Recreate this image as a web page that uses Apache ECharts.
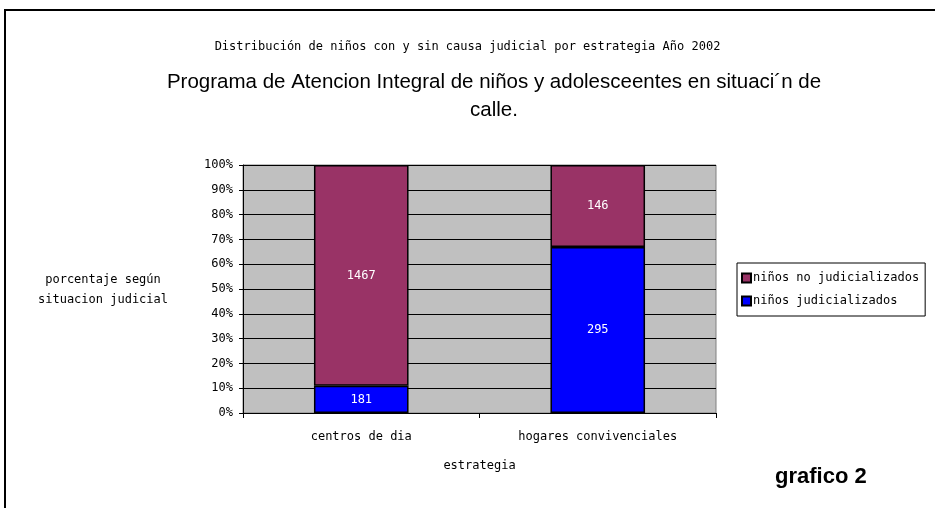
<!DOCTYPE html>
<html>
<head>
<meta charset="utf-8">
<script src="https://cdn.jsdelivr.net/npm/echarts@6/dist/echarts.min.js"></script>
<style>
html,body{margin:0;padding:0;background:#fff;}
#chart{width:935px;height:508px;}
</style>
</head>
<body>
<div id="chart"></div>
<script>
const categories = ['centros de dia', 'hogares convivenciales'];
const judicializados = [181, 295];
const noJudicializados = [1467, 146];
const yTickLabels = ['0%','10%','20%','30%','40%','50%','60%','70%','80%','90%','100%'];

const totals = categories.map((c, i) => judicializados[i] + noJudicializados[i]);
const pctJud = judicializados.map((v, i) => ({ value: v / totals[i] * 100, raw: v }));
const pctNo = noJudicializados.map((v, i) => ({ value: v / totals[i] * 100, raw: v }));

const FONT = 'Liberation Sans';
const SMALL = 'DejaVu Sans Mono';
const chart = echarts.init(document.getElementById('chart'), null, { renderer: 'canvas' });

const labelCfg = {
  show: true,
  position: 'inside',
  color: '#ffffff',
  fontFamily: SMALL,
  fontSize: 12,
  formatter: p => p.data.raw
};

chart.setOption({
  animation: false,
  backgroundColor: '#ffffff',
  textStyle: { fontFamily: SMALL },
  title: [
    {
      text: 'Distribución de niños con y sin causa judicial por estrategia Año 2002',
      left: 'center', top: 36,
      textStyle: { fontFamily: SMALL, fontSize: 12, fontWeight: 'normal', color: '#000' }
    },
    {
      text: 'Programa de Atencion Integral de niños y adolesceentes en situaci´n de\ncalle.',
      left: 489, top: 63, textAlign: 'center',
      textStyle: { fontFamily: FONT, fontSize: 20.5, fontWeight: 'normal', color: '#000', lineHeight: 28, align: 'center' }
    }
  ],
  legend: {
    orient: 'vertical',
    left: 737, top: 263,
    padding: [9, 6, 9, 4],
    itemGap: 11,
    itemWidth: 9, itemHeight: 9,
    borderColor: '#000', borderWidth: 1,
    data: ['niños no judicializados', 'niños judicializados'],
    textStyle: { fontFamily: SMALL, fontSize: 12, color: '#000', padding: [0,0,0,-3] },
    icon: 'rect'
  },
  grid: { left: 243, right: 219, top: 165, bottom: 95, show: true, backgroundColor: '#C0C0C0', borderColor: '#808080', borderWidth: 1 },
  xAxis: {
    type: 'category',
    data: categories,
    name: 'estrategia',
    nameLocation: 'middle',
    nameGap: 47,
    nameTextStyle: { fontFamily: SMALL, fontSize: 12, color: '#000' },
    axisLine: { lineStyle: { color: '#000', width: 1 } },
    axisTick: { show: true, alignWithLabel: false, length: 5, lineStyle: { color: '#000' } },
    axisLabel: { fontFamily: SMALL, fontSize: 12, color: '#000', margin: 18 }
  },
  yAxis: {
    type: 'value',
    min: 0, max: 100, interval: 10,
    axisLine: { show: true, lineStyle: { color: '#000', width: 1 } },
    axisTick: { show: true, length: 4, lineStyle: { color: '#000' } },
    splitLine: { show: true, lineStyle: { color: '#000', width: 1 } },
    axisLabel: { fontFamily: SMALL, fontSize: 12, color: '#000', margin: 10, formatter: (v) => yTickLabels[Math.round(v / 10)] }
  },
  series: [
    {
      name: 'niños judicializados',
      type: 'bar', stack: 'total',
      barCategoryGap: '60%',
      itemStyle: { color: '#0000FF', borderColor: '#000', borderWidth: 1.5 },
      label: labelCfg,
      data: pctJud
    },
    {
      name: 'niños no judicializados',
      type: 'bar', stack: 'total',
      barCategoryGap: '60%',
      itemStyle: { color: '#993366', borderColor: '#000', borderWidth: 1.5 },
      label: labelCfg,
      data: pctNo
    }
  ],
  graphic: [
    {
      type: 'rect', z: 100,
      shape: { x: 5, y: 10, width: 1000, height: 600 },
      style: { fill: 'none', stroke: '#000', lineWidth: 2 },
      silent: true
    },
    {
      type: 'text', x: 103, y: 270,
      style: { text: 'porcentaje según\nsituacion judicial', fontFamily: SMALL, fontSize: 12, fill: '#000', lineHeight: 20, align: 'center' }
    },
    {
      type: 'text', x: 775, y: 466,
      style: { text: 'grafico 2', fontFamily: FONT, fontSize: 22, fontWeight: 'bold', fill: '#000' }
    }
  ]
});
</script>
</body>
</html>
